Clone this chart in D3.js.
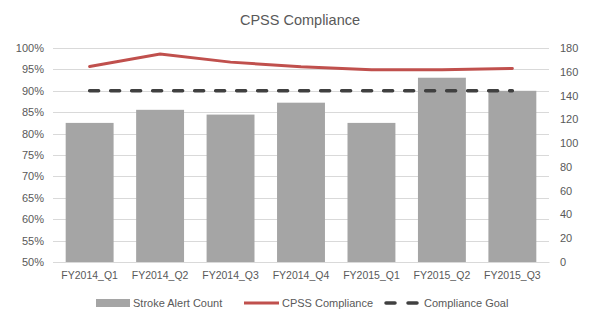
<!DOCTYPE html>
<html><head><meta charset="utf-8">
<script src="https://cdn.jsdelivr.net/npm/d3@7/dist/d3.min.js"></script>
<style>body{margin:0;background:#fff}svg{display:block}text{font-family:"Liberation Sans",Arial,sans-serif;fill:#595959}</style>
</head><body>
<script>
const categories = ["FY2014_Q1","FY2014_Q2","FY2014_Q3","FY2014_Q4","FY2015_Q1","FY2015_Q2","FY2015_Q3"];
const strokeAlertCount = [117,128,124,134,117,155,144];
const cpssCompliance = [0.957,0.986,0.967,0.956,0.949,0.949,0.952];
const complianceGoal = [0.90,0.90,0.90,0.90,0.90,0.90,0.90];
const leftTicks = [0.50,0.55,0.60,0.65,0.70,0.75,0.80,0.85,0.90,0.95,1.00];
const rightTicks = [0,20,40,60,80,100,120,140,160,180];

const W=598,H=328, m={l:53,r:49,t:48,b:66};
const svg=d3.select("body").append("svg").attr("width",W).attr("height",H);
const x=d3.scaleBand().domain(categories).range([m.l,W-m.r]).paddingInner(0.32).paddingOuter(0.18);
const yL=d3.scaleLinear().domain([0.5,1]).range([H-m.b,m.t]);
const yR=d3.scaleLinear().domain([0,180]).range([H-m.b,m.t]);

svg.append("text").attr("x",300).attr("y",25).attr("text-anchor","middle").style("font-size","14.5px").text("CPSS Compliance");

// gridlines
svg.append("g").selectAll("line").data(leftTicks).join("line")
  .attr("x1",m.l).attr("x2",W-m.r).attr("y1",d=>Math.round(yL(d))+0.5).attr("y2",d=>Math.round(yL(d))+0.5)
  .attr("stroke","#D9D9D9").attr("stroke-width",1);

// left axis
const ga=svg.append("g").attr("transform",`translate(${m.l-9},0)`)
  .call(d3.axisLeft(yL).tickValues(leftTicks).tickFormat(d3.format(".0%")).tickSize(0).tickPadding(0));
ga.select(".domain").remove();
ga.selectAll("text").style("font-size","11px").attr("fill","#595959");
// right axis
const gb=svg.append("g").attr("transform",`translate(${W-m.r+11},0)`)
  .call(d3.axisRight(yR).tickValues(rightTicks).tickSize(0).tickPadding(0));
gb.select(".domain").remove();
gb.selectAll("text").style("font-size","11px").attr("fill","#595959");

// bars
svg.append("g").selectAll("rect").data(strokeAlertCount).join("rect")
  .attr("x",(d,i)=>x(categories[i])).attr("width",x.bandwidth())
  .attr("y",d=>yR(d)).attr("height",d=>yR(0)-yR(d)).attr("fill","#A5A5A5");

// x axis
const gx=svg.append("g").attr("transform",`translate(0,${H-m.b})`)
  .call(d3.axisBottom(x).tickSize(0).tickPadding(10));
gx.select(".domain").attr("stroke","#D9D9D9");
gx.selectAll("text").style("font-size","10.5px").attr("fill","#595959");

const cx=(i)=>x(categories[i])+x.bandwidth()/2;
svg.append("path").datum(cpssCompliance)
  .attr("d",d3.line().x((d,i)=>cx(i)).y(d=>yL(d)))
  .attr("fill","none").attr("stroke","#C0504D").attr("stroke-width",3).attr("stroke-linecap","round");
svg.append("path").datum(complianceGoal)
  .attr("d",d3.line().x((d,i)=>cx(i)).y(d=>yL(d)))
  .attr("fill","none").attr("stroke","#404040").attr("stroke-width",3.5).attr("stroke-dasharray","9,12").attr("stroke-linecap","round");

// legend
const ly=303;
const lg=svg.append("g");
lg.append("rect").attr("x",96).attr("y",ly-4).attr("width",34).attr("height",8).attr("fill","#A5A5A5");
lg.append("text").attr("x",133).attr("y",ly+4).style("font-size","11px").text("Stroke Alert Count");
lg.append("line").attr("x1",244).attr("x2",279).attr("y1",ly).attr("y2",ly).attr("stroke","#C0504D").attr("stroke-width",3);
lg.append("text").attr("x",282).attr("y",ly+4).style("font-size","11px").text("CPSS Compliance");
lg.append("line").attr("x1",386).attr("x2",418).attr("y1",ly).attr("y2",ly).attr("stroke","#404040").attr("stroke-width",3.5).attr("stroke-dasharray","9,13").attr("stroke-linecap","round");
lg.append("text").attr("x",424).attr("y",ly+4).style("font-size","11px").text("Compliance Goal");
</script>
</body></html>
